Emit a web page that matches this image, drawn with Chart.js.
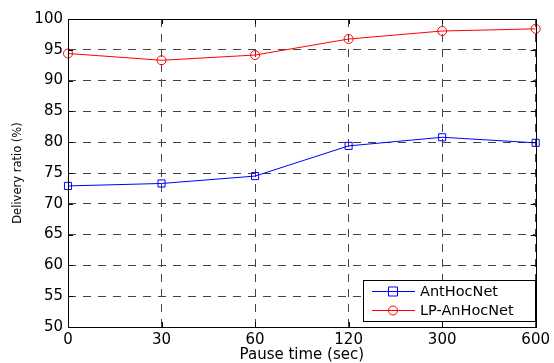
<!DOCTYPE html>
<html>
<head>
<meta charset="utf-8">
<script src="https://cdn.jsdelivr.net/npm/chart.js@4.4.1/dist/chart.umd.min.js"></script>
<style>
html,body{margin:0;padding:0;background:#fff;}
#wrap{width:554px;height:363px;position:relative;}
</style>
</head>
<body>
<div id="wrap"><canvas id="c" width="554" height="363"></canvas></div>
<script>
const categories = ['0', '30', '60', '120', '300', '600'];
const antHocNet = [72.9, 73.3, 74.5, 79.4, 80.8, 79.9];
const lpAnHocNet = [94.4, 93.3, 94.15, 96.75, 98.05, 98.4];
const seriesNames = ['AntHocNet', 'LP-AnHocNet'];
const xTitle = 'Pause time (sec)';
const yTitle = 'Delivery ratio (%)';

const FONT = "'DejaVu Sans', 'Liberation Sans', sans-serif";

const boxPlugin = {
  id: 'box',
  afterDatasetsDraw(chart) {
    const ctx = chart.ctx;
    const a = chart.chartArea;
    const xs = chart.scales.x, ys = chart.scales.y;
    ctx.save();
    ctx.strokeStyle = '#000';
    ctx.lineWidth = 1;
    ctx.strokeRect(Math.round(a.left) + 0.5, Math.round(a.top) + 0.5,
      Math.round(a.right - a.left), Math.round(a.bottom - a.top));
    ctx.beginPath();
    const tl = 5;
    for (let i = 0; i < categories.length; i++) {
      const x = Math.round(xs.getPixelForValue(i)) + 0.5;
      ctx.moveTo(x, a.bottom); ctx.lineTo(x, a.bottom - tl);
      ctx.moveTo(x, a.top); ctx.lineTo(x, a.top + tl);
    }
    ys.ticks.forEach(t => {
      const y = Math.round(ys.getPixelForValue(t.value)) + 0.5;
      ctx.moveTo(a.left, y); ctx.lineTo(a.left + tl, y);
      ctx.moveTo(a.right, y); ctx.lineTo(a.right - tl, y);
    });
    ctx.stroke();

    // legend
    const lx = 363.5, ly = 280.5, lw = 172, lh = 41;
    ctx.fillStyle = '#fff';
    ctx.fillRect(lx, ly, lw, lh);
    ctx.strokeStyle = '#000';
    ctx.strokeRect(lx, ly, lw, lh);
    const rows = [291, 310];
    chart.data.datasets.forEach((ds, i) => {
      const y = rows[i];
      ctx.strokeStyle = ds.borderColor;
      ctx.lineWidth = 1;
      ctx.beginPath();
      ctx.moveTo(372, y + 0.5); ctx.lineTo(415, y + 0.5);
      ctx.stroke();
      ctx.beginPath();
      if (ds.pointStyle === 'rect') {
        ctx.rect(388.5, y - 4, 9, 9);
      } else {
        ctx.arc(393, y + 0.5, 4.5, 0, Math.PI * 2);
      }
      ctx.stroke();
      ctx.fillStyle = '#000';
      ctx.font = '14.5px ' + FONT;
      ctx.textBaseline = 'middle';
      ctx.textAlign = 'left';
      ctx.fillText(ds.label, 420, y + 1);
    });
    ctx.restore();
  }
};

new Chart(document.getElementById('c'), {
  type: 'line',
  data: {
    labels: categories,
    datasets: [
      {
        label: seriesNames[0],
        data: antHocNet,
        borderColor: '#0000ff',
        backgroundColor: 'rgba(0,0,0,0)',
        borderWidth: 1,
        pointStyle: 'rect',
        pointRadius: 5,
        pointBorderWidth: 1,
        pointBorderColor: '#0000ff',
        pointBackgroundColor: 'rgba(0,0,0,0)',
        tension: 0,
        clip: false
      },
      {
        label: seriesNames[1],
        data: lpAnHocNet,
        borderColor: '#ff0000',
        backgroundColor: 'rgba(0,0,0,0)',
        borderWidth: 1,
        pointStyle: 'circle',
        pointRadius: 4.5,
        pointBorderWidth: 1,
        pointBorderColor: '#ff0000',
        pointBackgroundColor: 'rgba(0,0,0,0)',
        tension: 0,
        clip: false
      }
    ]
  },
  options: {
    responsive: false,
    animation: false,
    devicePixelRatio: 1,
    layout: { padding: { left: 0, top: 19, right: 17, bottom: 0 } },
    plugins: { legend: { display: false }, tooltip: { enabled: false } },
    scales: {
      x: {
        type: 'category',
        offset: false,
        grid: { color: '#444', lineWidth: 1, drawTicks: false },
        border: { display: false, dash: [8, 7] },
        ticks: { color: '#000', font: { family: FONT, size: 15 }, padding: 4, maxRotation: 0, autoSkip: false },
        title: { display: true, text: xTitle, color: '#000', font: { family: FONT, size: 15, lineHeight: 1 }, padding: { top: 0, bottom: 0 } },
        afterFit(s) { s.height = 36; }
      },
      y: {
        min: 50, max: 100,
        grid: { color: '#444', lineWidth: 1, drawTicks: false },
        border: { display: false, dash: [8, 7] },
        ticks: { stepSize: 5, color: '#000', font: { family: FONT, size: 15 }, padding: 5 },
        title: { display: true, text: yTitle, color: '#000', font: { family: FONT, size: 11.5, lineHeight: 1.2 }, padding: { top: 11, bottom: 0 } },
        afterFit(s) { s.width = 68; }
      }
    }
  },
  plugins: [boxPlugin]
});
</script>
</body>
</html>
